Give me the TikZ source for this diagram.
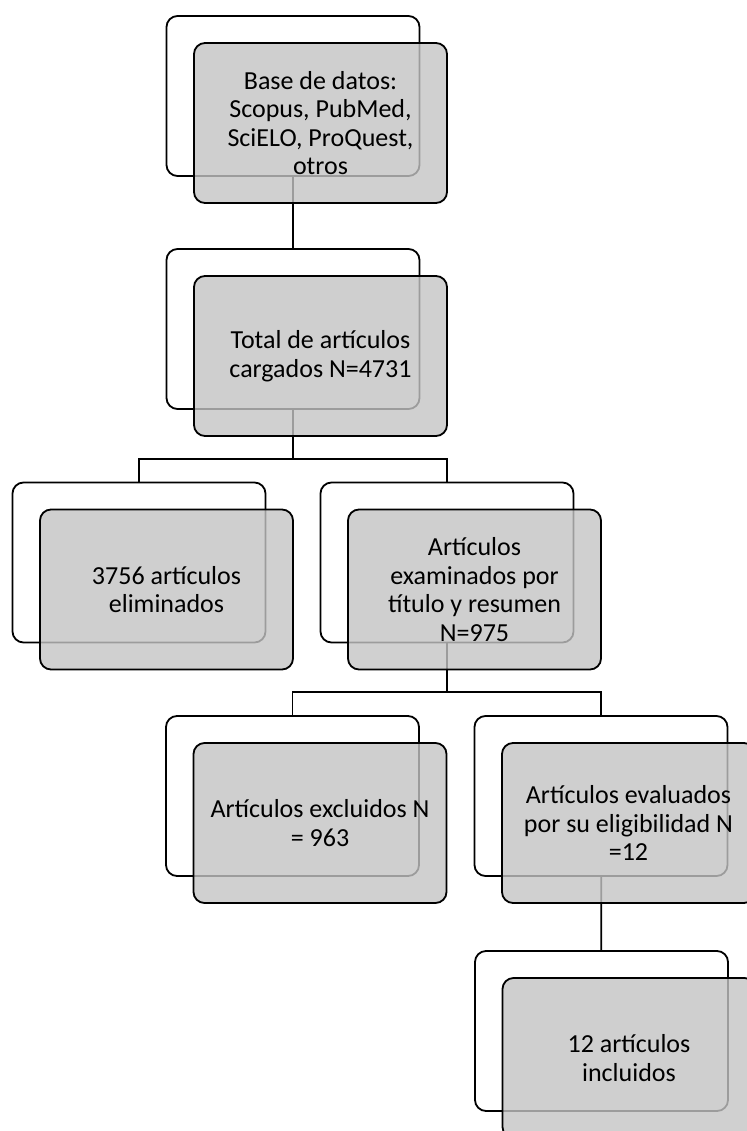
\documentclass[tikz,border=0pt]{standalone}
\usepackage{fontspec}
\setmainfont{Carlito}
\usetikzlibrary{positioning}
\tikzset{
	fondo/.style = {draw, line width = 1.8pt, rounded corners = 11pt, fill = white,
		minimum width = 253pt, minimum height = 160pt, inner sep = 0pt},
	caja/.style = {fondo, fill = black!23, fill opacity = 0.8, text opacity = 1,
		align = center, font = \fontsize{26}{28.5}\selectfont},
	linea/.style = {line width = 1.8pt}
}

\begin{document}
\begin{tikzpicture}[x = 1pt, y = 1pt]
	
	\useasboundingbox (0, 0) rectangle (746, -1131);
	
	\node[fondo] (s1) at (293, -96) {};
	\node[fondo] (s2) at (293, -329) {};
	\node[fondo] (s3) at (139, -562.5) {};
	\node[fondo] (s4) at (447, -562.5) {};
	\node[fondo] (s5) at (292.5, -796) {};
	\node[fondo] (s6) at (601, -796) {};
	\node[fondo] (s7) at (601.5, -1031) {};
	
	\draw[linea] (s1) -- (s2);
	\draw[linea] (s2.south) |- ([yshift = 23pt]s3.north) -- (s3.north);
	\draw[linea] (s2.south) |- ([yshift = 23pt]s4.north) -- (s4.north);
	\draw[linea] (s4.south) |- ([yshift = 23pt]s5.north) -- (s5.north);
	\draw[linea] (s4.south) |- ([yshift = 23pt]s6.north) -- (s6.north);
	\draw[linea] (s6) -- (s7);
	
	\node[caja] (1) at ([shift = {(27.5, -27)}]s1) {Base de datos:\\Scopus, PubMed,\\SciELO, ProQuest,\\otros};
	\node[caja] (2) at ([shift = {(27.5, -27)}]s2) {Total de artículos\\cargados N=4731};
	\node[caja] (3) at ([shift = {(27.5, -27)}]s3) {3756 artículos\\eliminados};
	\node[caja] (4) at ([shift = {(27.5, -27)}]s4) {Artículos\\examinados por\\título y resumen\\N=975};
	\node[caja] (5) at ([shift = {(27.5, -27)}]s5) {Artículos excluidos N\\= 963};
	\node[caja] (6) at ([shift = {(27.5, -27)}]s6) {Artículos evaluados\\por su eligibilidad N\\=12};
	\node[caja] (7) at ([shift = {(27.5, -27)}]s7) {12 artículos\\incluidos};
	
\end{tikzpicture}
\end{document}
